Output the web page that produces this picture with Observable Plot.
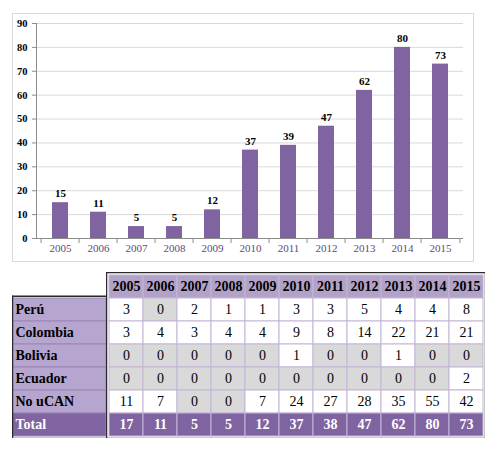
<!DOCTYPE html>
<html><head><meta charset="utf-8">
<script src="https://cdn.jsdelivr.net/npm/d3@7"></script>
<script src="https://cdn.jsdelivr.net/npm/@observablehq/plot@0.6"></script>
<style>
body{margin:0;background:#fff;}
#root{position:relative;width:500px;height:450px;font-family:"Liberation Serif",serif;}
#chart{position:absolute;left:12px;top:13px;width:460px;height:247px;border:1px solid #d9d9d9;}
#tl{position:absolute;left:12px;top:272px;}
#tr{position:absolute;left:106px;top:272px;}
svg{display:block}
svg text{font-family:"Liberation Serif",serif !important;}
</style></head><body>
<div id="root"><div id="chart"></div><div id="tl"></div><div id="tr"></div></div>
<script>
const years = ["2005","2006","2007","2008","2009","2010","2011","2012","2013","2014","2015"];
const totals = [15,11,5,5,12,37,39,47,62,80,73];
const yTicks = [0,10,20,30,40,50,60,70,80,90];
const rowNames = ["Perú","Colombia","Bolivia","Ecuador","No uCAN","Total"];
const peru = [3,0,2,1,1,3,3,5,4,4,8];
const colombia = [3,4,3,4,4,9,8,14,22,21,21];
const bolivia = [0,0,0,0,0,1,0,0,1,0,0];
const ecuador = [0,0,0,0,0,0,0,0,0,0,2];
const noUcan = [11,7,0,0,7,24,27,28,35,55,42];
const tableTotals = [17,11,5,5,12,37,38,47,62,80,73];

const FONT = "'Liberation Serif', serif";
const PURPLE = "#8064a2";

// ---- bar chart ----
const barData = years.map((y,i)=>({year:y, value:totals[i]}));
const W=460, H=247, mL=23, mR=10, mT=9, mB=23;
const step = (W-mL-mR)/years.length;
const chart = Plot.plot({
  width:W, height:H, marginLeft:mL, marginRight:mR, marginTop:mT, marginBottom:mB,
  style:`font-family:${FONT};background:transparent;color:#000;`,
  x:{domain:years, paddingInner:0.59, paddingOuter:0.295, label:null, axis:null},
  y:{domain:[0,90], label:null, axis:null},
  marks:[
    Plot.gridY(yTicks, {stroke:"#d9d9d9", strokeOpacity:1}),
    Plot.barY(barData, {x:"year", y:"value", fill:PURPLE}),
    Plot.frame({anchor:"left", stroke:"#8c8c8c"}),
    Plot.ruleY([0], {stroke:"#8c8c8c"}),
    Plot.ruleX(years, {x:d=>d, dx:-step/2, y1:0, y2:0, insetBottom:-5, stroke:"#8c8c8c"}),
    Plot.ruleX(years.slice(-1), {x:d=>d, dx:step/2, y1:0, y2:0, insetBottom:-5, stroke:"#8c8c8c"}),
    Plot.axisY(yTicks, {tickSize:4, tickPadding:5, stroke:"#8c8c8c", fill:"#000", fontWeight:"bold", fontSize:10.5, label:null}),
    Plot.axisX({tickSize:0, tickPadding:6, fill:"#5b4b7d", fontSize:11, label:null}),
    Plot.text(barData, {x:"year", y:"value", text:"value", dy:-9, fontWeight:"bold", fontSize:11, fill:"#000"})
  ]
});
document.getElementById("chart").appendChild(chart);

// ---- table ----
const series = [peru, colombia, bolivia, ecuador, noUcan, tableTotals];
const cells = [];
years.forEach(y=>cells.push({row:"hdr", year:y, label:y, kind:"hdr"}));
rowNames.forEach((r,ri)=>years.forEach((y,i)=>{
  const v = series[ri][i];
  cells.push({row:r, year:y, label:String(v), kind: r==="Total" ? "total" : (v===0 ? "zero" : "val")});
}));
const fillFor = {hdr:"#b3a2c7", total:PURPLE, zero:"#d9d9d9", val:"#ffffff"};
const TH = 166, rowH = TH/7;
const boldCells = cells.filter(d=>d.kind==="hdr"||d.kind==="total");
const plainCells = cells.filter(d=>!(d.kind==="hdr"||d.kind==="total"));

const right = Plot.plot({
  width:379, height:TH, margin:0,
  style:`font-family:${FONT};background:transparent;`,
  x:{domain:years, padding:0, axis:null},
  y:{domain:["hdr", ...rowNames], padding:0, axis:null},
  marks:[
    Plot.cell(cells, {x:"year", y:"row", fill:d=>fillFor[d.kind], stroke:"#c3b5d6", strokeWidth:1}),
    Plot.text(plainCells, {x:"year", y:"row", text:"label", fontSize:14, fill:"#000"}),
    Plot.text(boldCells, {x:"year", y:"row", text:"label", fontSize:14, fontWeight:"bold",
      fill:d=>d.kind==="total" ? "#fff" : "#000"}),
    Plot.frame({stroke:"#2a2a2a", strokeWidth:1.5})
  ]
});
document.getElementById("tr").appendChild(right);

const labels = rowNames.map(r=>({row:r, kind: r==="Total" ? "total" : "lab"}));
const left = Plot.plot({
  width:94, height:TH, marginTop:rowH, marginBottom:0, marginLeft:0, marginRight:0,
  style:`font-family:${FONT};background:transparent;`,
  x:{domain:["c"], padding:0, axis:null},
  y:{domain:rowNames, padding:0, axis:null},
  marks:[
    Plot.cell(labels, {x:()=>"c", y:"row", fill:d=>d.kind==="total" ? PURPLE : "#b6a5ce", stroke:"#9a86b6", strokeWidth:1}),
    Plot.text(labels, {y:"row", text:"row", frameAnchor:"left", dx:3, fontSize:14, fontWeight:"bold",
      fill:d=>d.kind==="total" ? "#fff" : "#000"}),
    Plot.frame({anchor:"left", stroke:"#2a2a2a", strokeWidth:1.5}),
    Plot.frame({anchor:"top", stroke:"#2a2a2a", strokeWidth:1.5}),
    Plot.frame({anchor:"bottom", stroke:"#2a2a2a", strokeWidth:1.5})
  ]
});
document.getElementById("tl").appendChild(left);
</script>
</body></html>
